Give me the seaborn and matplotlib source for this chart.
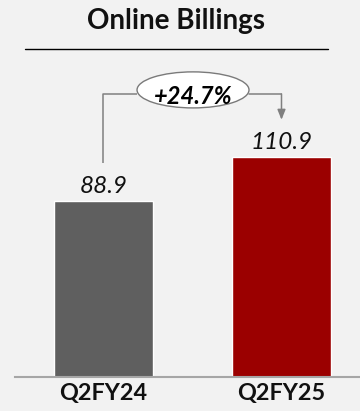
import matplotlib
matplotlib.use("Agg")
import matplotlib.pyplot as plt
from matplotlib.patches import Ellipse
from matplotlib.lines import Line2D
import seaborn as sns
import pandas as pd

# Data
periods = ["Q2FY24", "Q2FY25"]
billings = [88.9, 110.9]
growth_label = "+24.7%"
bar_colors = ["#5f5f5f", "#9b0000"]
title = "Online Billings"

sns.set_theme(style="white")
plt.rcParams["font.family"] = ["Lato", "DejaVu Sans"]

bg = "#f2f2f2"
W, H = 360, 411
fig = plt.figure(figsize=(W / 100, H / 100), dpi=100, facecolor=bg)

# Axes placed in pixel terms: bottom axis at y=377, scale ~1.98 px per unit
ax_left, ax_right = 15, 360
ax_bottom_px = 377
ymax = 170
px_per_unit = 1.98
ax_h = ymax * px_per_unit
ax = fig.add_axes([ax_left / W, (H - ax_bottom_px) / H, (ax_right - ax_left) / W, ax_h / H])
ax.set_facecolor(bg)

df = pd.DataFrame({"period": periods, "billings": billings})
sns.barplot(data=df, x="period", y="billings", hue="period", palette=bar_colors,
            width=0.556, legend=False, ax=ax, saturation=1)

ax.set_xlim(-0.497, 1.441)
ax.set_ylim(0, ymax)
for s in ["top", "right", "left"]:
    ax.spines[s].set_visible(False)
ax.spines["bottom"].set_color("#a6a6a6")
ax.spines["bottom"].set_linewidth(1.5)
ax.set_yticks([])
ax.set_xlabel("")
ax.set_ylabel("")
ax.tick_params(axis="x", length=0, pad=4)
for lbl in ax.get_xticklabels():
    lbl.set_fontweight("bold")
    lbl.set_fontsize(16.8)
    lbl.set_color("#111111")

# Value labels
for i, v in enumerate(billings):
    ax.text(i, v + 4.2, f"{v:.1f}", ha="center", va="baseline",
            fontsize=17.5, fontstyle="italic", color="#111111")

# Growth connector with ellipse badge
line_y = 143
conn_color = "#808080"
ell_cx, ell_w = 0.503, 0.629
ax.plot([0, 0, ell_cx - ell_w / 2], [billings[0] + 19, line_y, line_y],
        color=conn_color, lw=1.1, solid_capstyle="butt")
ax.plot([ell_cx + ell_w / 2, 1], [line_y, line_y], color=conn_color, lw=1.1)
ax.annotate("", xy=(1, billings[1] + 19), xytext=(1, line_y),
            arrowprops=dict(arrowstyle="-|>,head_length=0.5,head_width=0.2",
                            color=conn_color, lw=1.1, shrinkA=0, shrinkB=0))
ax.add_patch(Ellipse((ell_cx, 145), ell_w, 18.2, facecolor="white",
                     edgecolor="#7a7a7a", lw=1.0, zorder=5))
ax.text(ell_cx, 138, growth_label, ha="center", va="baseline", fontsize=17,
        fontweight="bold", fontstyle="italic", color="black", zorder=6)

# Title and rule
fig.text(176 / W, 1 - 29 / H, title, ha="center", va="baseline",
         fontsize=20, fontweight="bold", color="#111111")
fig.add_artist(Line2D([25 / W, 328 / W], [1 - 49 / H, 1 - 49 / H],
                      color="black", lw=1.0, transform=fig.transFigure))

fig.savefig("out.png", dpi=100, facecolor=bg)
